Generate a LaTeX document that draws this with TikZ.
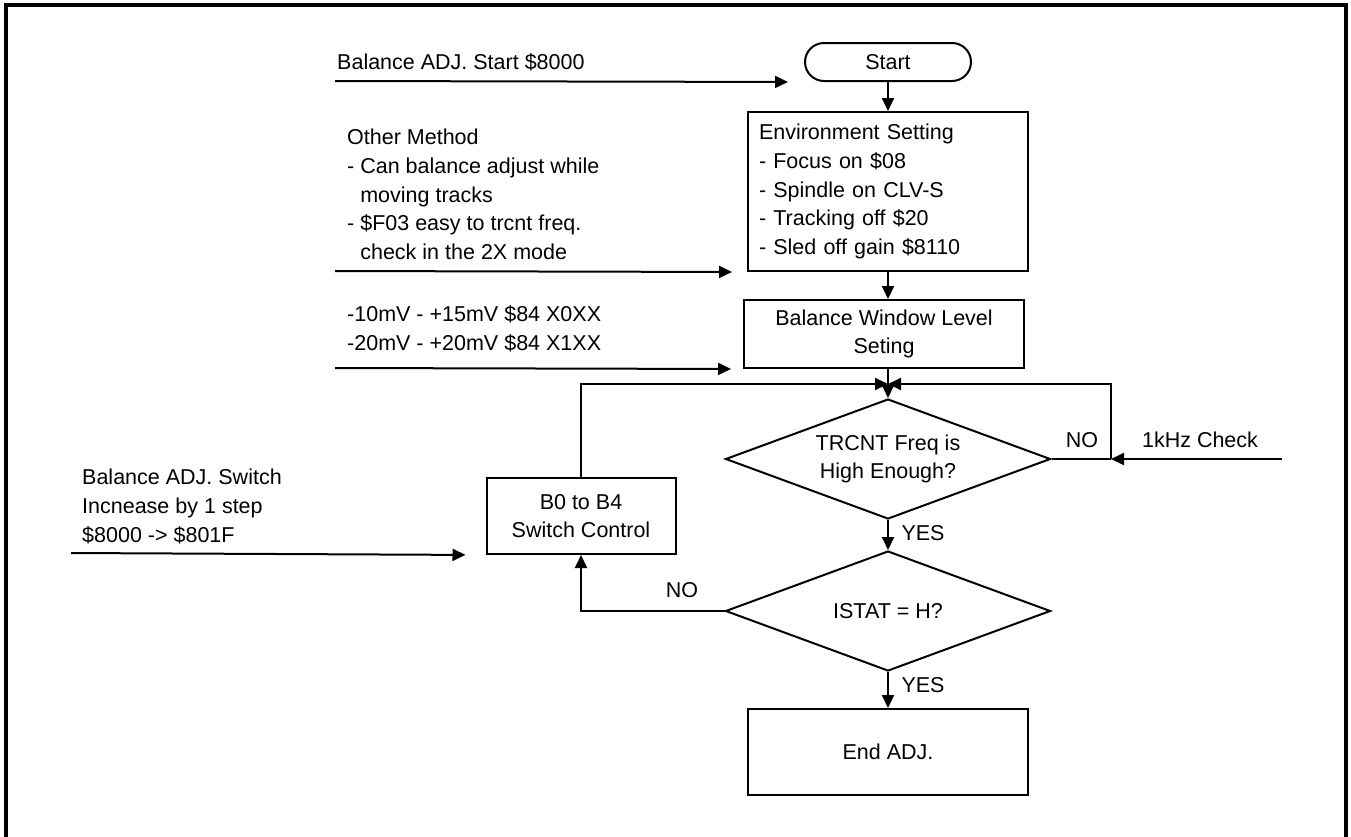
\documentclass[tikz,border=0pt]{standalone}
\usepackage{fontspec}
\setmainfont{Liberation Sans}
\usetikzlibrary{arrows.meta,shapes.geometric}

\begin{document}
\begin{tikzpicture}[x=1pt,y=-1pt,
  every node/.style={font=\fontsize{21.5}{28.7}\selectfont},
  line/.style={line width=2pt},
  arr/.style={line width=2pt, -{Triangle[length=13pt,width=12pt]}},
  box/.style={draw, line width=2pt, inner sep=0pt},
  dia/.style={draw, line width=2pt, diamond, shape aspect=2.7, inner sep=0pt,
    minimum width=325pt, minimum height=120pt, align=center},
  lbl/.style={inner sep=0pt, anchor=west, align=left},
  tag/.style={inner sep=0pt}
]
\useasboundingbox (0,0) rectangle (1351,836);

% outer frame (open at the bottom)
\draw[line width=4pt] (6,845) -- (6,5) -- (1346,5) -- (1346,845);

% flow boxes
\node[box, rounded corners=19pt, minimum width=166pt, minimum height=38pt] (start) at (888,62) {Start};
\node[box, text width=258pt, inner xsep=11pt, minimum height=159pt, align=left] (env) at (888,191.5)
  {Environment Setting\\- Focus on \$08\\- Spindle on CLV-S\\- Tracking off \$20\\- Sled off gain \$8110};
\node[box, minimum width=280pt, minimum height=68pt, align=center] (bw) at (884,334)
  {Balance Window Level\\Seting};
\node[dia] (d1) at (888,459) {TRCNT Freq is\\High Enough?};
\node[dia] (d2) at (888,611) {ISTAT = H?};
\node[box, minimum width=280pt, minimum height=86pt] (endb) at (888,752) {End ADJ.};
\node[box, minimum width=189pt, minimum height=76pt, align=center] (b0) at (581,516)
  {B0 to B4\\Switch Control};

% corner and free-end points
\coordinate (join) at (888,384);
\coordinate (rc) at (1111,459);
\coordinate (kin) at (1282,459);
\coordinate (in1) at (335,81);
\coordinate (in2) at (335,271);
\coordinate (in3) at (335,368);
\coordinate (in4) at (71,553);

% main flow
\draw[arr] (start.south) -- (start.south |- env.north);
\draw[arr] (env.south) -- (env.south |- bw.north);
\draw[arr] (d1.north |- bw.south) -- (d1.north);
\draw[arr] (d1.south) -- (d2.north);
\draw[arr] (d2.south) -- (endb.north);

% loops back to the first decision
\draw[arr] (b0.north) |- (join);
\draw[line] (d1.east) -- (rc);
\draw[arr] (rc) |- (join);
\draw[arr] (kin) -- (rc);
\draw[arr] (d2.west) -| (b0.south);

% side inputs
\draw[arr, shorten >=16pt] (in1) -- (start.south west);
\draw[arr, shorten >=15pt] (in2) -- (env.south west);
\draw[arr, shorten >=12pt] (in3) -- (bw.south west);
\draw[arr, shorten >=20pt] (in4) -- (b0.south west);

% side notes
\node[lbl] (n1) at (337,62) {Balance ADJ. Start \$8000};
\node[lbl] (n2) at (347,194.5) {Other Method\\- Can balance adjust while\\\hphantom{-\ }moving tracks\\- \$F03 easy to trcnt freq.\\\hphantom{-\ }check in the 2X mode};
\node[lbl] (n3) at (347,329) {-10mV - +15mV \$84 X0XX\\-20mV - +20mV \$84 X1XX};
\node[lbl] (n4) at (82,506.5) {Balance ADJ. Switch\\Incnease by 1 step\\\$8000 -> \$801F};

% branch labels
\node[tag] (no1) at (1082,440) {NO};
\node[tag] (khz) at (1200,440) {1kHz Check};
\node[tag] (yes1) at (923,533) {YES};
\node[tag] (yes2) at (923,685) {YES};
\node[tag] (no2) at (682,590) {NO};
\end{tikzpicture}
\end{document}
